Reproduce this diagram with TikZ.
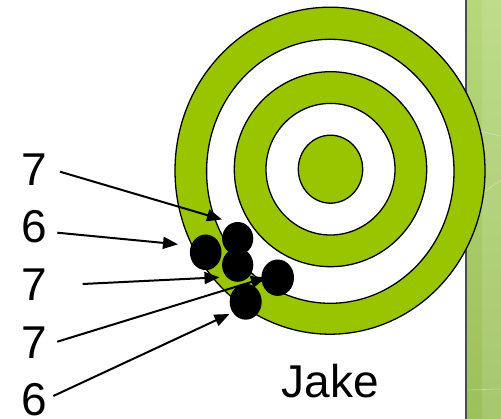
\documentclass[tikz,border=0pt]{standalone}
\usepackage{fontspec}
\setmainfont{Liberation Sans}
\usetikzlibrary{arrows.meta}
\definecolor{ringgreen}{RGB}{153,197,0}
\definecolor{paneltop}{RGB}{182,216,122}
\definecolor{panelbot}{RGB}{156,192,90}
\tikzset{
  ring/.style={draw=black,line width=1.3pt},
  shot/.style={fill=black},
  lbl/.style={font=\fontsize{46}{46}\selectfont,inner sep=0pt,anchor=center},
  pointer/.style={line width=2pt,-{Triangle[length=15pt,width=12pt]}}
}
\begin{document}
\begin{tikzpicture}[x=1pt,y=-1pt]
\useasboundingbox (0,0) rectangle (501,419);
\fill[white] (0,0) rectangle (501,419);
% side panel
\shade[top color=paneltop,bottom color=panelbot] (466,0) rectangle (501,419);
\fill[white,opacity=0.12] (482,0) rectangle (501,419);
\draw[white,opacity=0.35,line width=0.6pt] (466,128) -- (501,136);
\draw[white,opacity=0.35,line width=0.6pt] (466,205) -- (501,180);
\draw[white,opacity=0.35,line width=0.6pt] (466,390) -- (501,389);
\draw[black!70,line width=1.2pt] (466,0) -- (466,419);
% target
\filldraw[ring,fill=ringgreen] (330,170.7) ellipse [x radius=155,y radius=163.5];
\filldraw[ring,fill=white] (330.3,171.3) ellipse [x radius=123.7,y radius=132];
\filldraw[ring,fill=ringgreen] (330.5,169.2) ellipse [x radius=96.2,y radius=97.5];
\filldraw[ring,fill=white] (330.5,169.2) ellipse [x radius=64.5,y radius=65.8];
\filldraw[ring,fill=ringgreen] (330.5,169.2) ellipse [x radius=32.2,y radius=34];
% labels
\node[lbl] (l1) at (34,170) {7};
\node[lbl] (l2) at (34,227) {6};
\node[lbl] (l3) at (34,285) {7};
\node[lbl] (l4) at (34,342.5) {7};
\node[lbl] (l5) at (34,399.2) {6};
\node[lbl] (jake) at (330.5,381) {Jake};
% arrows
\coordinate (s1) at (60,171.7);
\coordinate (s2) at (57.3,232.7);
\coordinate (s3) at (82.7,284);
\coordinate (s4) at (57.3,341.7);
\coordinate (s5) at (53.3,396);
\coordinate (t1) at (222,219.5);
\coordinate (t2) at (178,244.3);
\coordinate (t3) at (219.5,277.3);
\coordinate (t4) at (266,277.5);
\coordinate (t5) at (229.5,314);
\draw[pointer] (s1) -- (t1);
\draw[pointer] (s2) -- (t2);
\draw[pointer] (s3) -- (t3);
\draw[pointer] (s4) -- (t4);
\draw[pointer] (s5) -- (t5);
% shots
\fill[shot] (205.7,252.3) ellipse [x radius=15.8,y radius=17.8];
\fill[shot] (237.7,238.5) ellipse [x radius=15.6,y radius=16.5];
\fill[shot] (237.7,265) ellipse [x radius=15.6,y radius=16.8];
\fill[shot] (277.7,277.7) ellipse [x radius=16.3,y radius=18.2];
\fill[shot] (245.7,301.7) ellipse [x radius=16,y radius=18];
\end{tikzpicture}
\end{document}
